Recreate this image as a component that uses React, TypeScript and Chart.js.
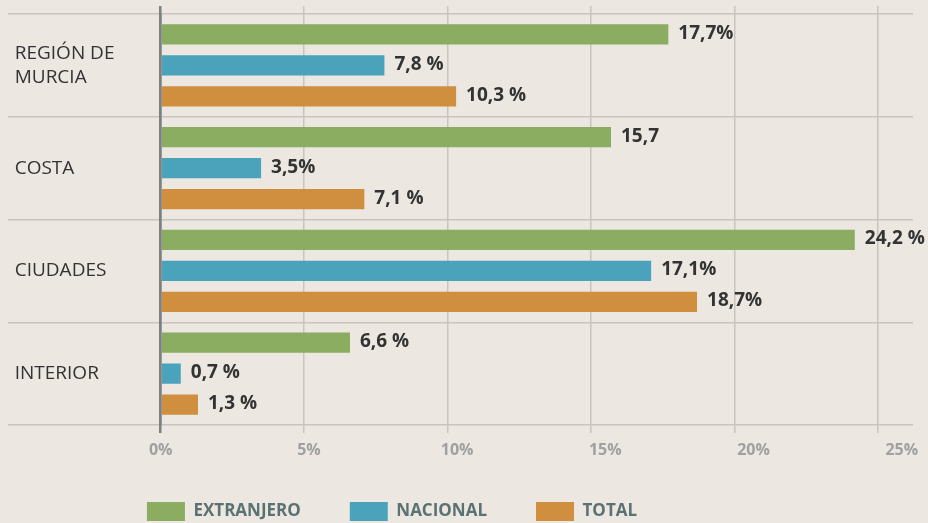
import React, { useEffect, useRef } from 'react';
import { Chart, registerables } from 'chart.js';

Chart.register(...registerables);

// ---- data ----
const categories: (string | string[])[] = [['REGIÓN DE', 'MURCIA'], 'COSTA', 'CIUDADES', 'INTERIOR'];
const seriesNames = ['EXTRANJERO', 'NACIONAL', 'TOTAL'];
const extranjero = [17.7, 15.7, 24.2, 6.6];
const nacional = [7.8, 3.5, 17.1, 0.7];
const total = [10.3, 7.1, 18.7, 1.3];
const extranjeroLabels = ['17,7%', '15,7', '24,2 %', '6,6 %'];
const nacionalLabels = ['7,8 %', '3,5%', '17,1%', '0,7 %'];
const totalLabels = ['10,3 %', '7,1 %', '18,7%', '1,3 %'];
const tickStep = 5;

// ---- style ----
const FONT = "'Open Sans', 'Noto Sans', sans-serif";
const BG = '#ece7e1';
const GRID = '#c9c4bf';
const AXIS = '#7b8082';
const COLORS = ['#8aad62', '#4aa3bb', '#d08f3f'];
const X_MAX = 26.23;
const X_LABEL_MAX = 25.38;
const LEGEND_CENTER = 392;
const LEGEND_RAISE = 8;

const seriesValues = [extranjero, nacional, total];
const seriesLabels = [extranjeroLabels, nacionalLabels, totalLabels];

const bgPlugin = {
  id: 'bgFill',
  beforeDraw(chart: any) {
    const { ctx, width, height } = chart;
    ctx.save();
    ctx.fillStyle = BG;
    ctx.fillRect(0, 0, width, height);
    ctx.restore();
  },
};

const valueLabelPlugin = {
  id: 'valueLabels',
  afterDatasetsDraw(chart: any) {
    const ctx = chart.ctx;
    ctx.save();
    ctx.font = `bold 19px ${FONT}`;
    ctx.fillStyle = '#333333';
    ctx.textAlign = 'left';
    ctx.textBaseline = 'middle';
    chart.data.datasets.forEach((_ds: any, i: number) => {
      const meta = chart.getDatasetMeta(i);
      meta.data.forEach((bar: any, j: number) => {
        const { x, y } = bar.getProps(['x', 'y'], true);
        ctx.fillText(seriesLabels[i][j], x + 10, y - 1);
      });
    });
    ctx.restore();
  },
};

const legendShiftPlugin = {
  id: 'legendShift',
  afterLayout(chart: any) {
    const lg = chart.legend;
    if (!lg) return;
    const half = (lg.right - lg.left) / 2;
    lg.left = LEGEND_CENTER - half;
    lg.right = LEGEND_CENTER + half;
    lg.top -= LEGEND_RAISE;
    lg.bottom -= LEGEND_RAISE;
  },
};

const gridColor = (ctx: any) => (ctx.tick && ctx.tick.value === 0 ? AXIS : GRID);
const gridWidth = (ctx: any) => (ctx.tick && ctx.tick.value === 0 ? 2.5 : 1.5);

export default function App() {
  const canvasRef = useRef<HTMLCanvasElement | null>(null);

  useEffect(() => {
    document.body.style.margin = '0';
    document.body.style.background = BG;
    const canvas = canvasRef.current;
    if (!canvas) return;
    const chart = new Chart(canvas, {
      type: 'bar',
      data: {
        labels: categories,
        datasets: seriesNames.map((name, i) => ({
          label: name,
          data: seriesValues[i],
          backgroundColor: COLORS[i],
          borderColor: COLORS[i],
          borderWidth: 0,
          categoryPercentage: 0.905,
          barPercentage: 0.66,
          xAxisID: 'x',
          yAxisID: 'y',
        })),
      },
      options: {
        indexAxis: 'y',
        animation: false,
        responsive: true,
        maintainAspectRatio: false,
        layout: { padding: { top: 6, left: 8, right: 15, bottom: -16 } },
        scales: {
          y: {
            type: 'category',
            position: 'left',
            offset: true,
            grid: {
              offset: true,
              color: GRID,
              lineWidth: 1.5,
              tickLength: 152.7,
            },
            border: { display: true, color: AXIS, width: 2.5, z: 1 },
            ticks: {
              mirror: true,
              padding: -146,
              color: '#333333',
              font: { family: FONT, size: 19, lineHeight: 1.24 },
            },
            afterFit: (scale: any) => {
              scale.width = 152.7;
            },
          },
          x: {
            type: 'linear',
            position: 'bottom',
            min: 0,
            max: X_MAX,
            bounds: 'data',
            grid: { color: gridColor, lineWidth: gridWidth, tickLength: 8 },
            border: { display: false },
            ticks: { display: false, stepSize: tickStep, includeBounds: false },
            afterFit: (scale: any) => {
              scale.height = 8;
            },
          },
          xLab: {
            type: 'linear',
            position: 'bottom',
            min: 0,
            max: X_LABEL_MAX,
            bounds: 'data',
            grid: { display: false, drawTicks: false },
            border: { display: false },
            ticks: {
              stepSize: tickStep,
              includeBounds: false,
              padding: 8,
              color: '#a0a0a0',
              font: { family: FONT, size: 16, weight: 'bold' },
              callback: (v: any) => `${v}%`,
            },
            afterFit: (scale: any) => {
              scale.height = 28;
            },
          },
          xTop: {
            type: 'linear',
            position: 'top',
            min: 0,
            max: X_MAX,
            bounds: 'data',
            grid: { drawOnChartArea: false, color: gridColor, lineWidth: gridWidth, tickLength: 8 },
            border: { display: false },
            ticks: { display: false, stepSize: tickStep, includeBounds: false },
            afterFit: (scale: any) => {
              scale.height = 8;
            },
          },
        },
        plugins: {
          legend: {
            position: 'bottom',
            align: 'center',
            labels: {
              boxWidth: 38,
              boxHeight: 19,
              padding: 49,
              color: '#5b7272',
              font: { family: FONT, size: 17, weight: 'bold' },
            },
          },
          tooltip: { enabled: false },
        },
      } as any,
      plugins: [bgPlugin, valueLabelPlugin, legendShiftPlugin],
    });
    return () => chart.destroy();
  }, []);

  return (
    <div style={{ width: 928, height: 523, position: 'relative' }}>
      <canvas ref={canvasRef} />
    </div>
  );
}
